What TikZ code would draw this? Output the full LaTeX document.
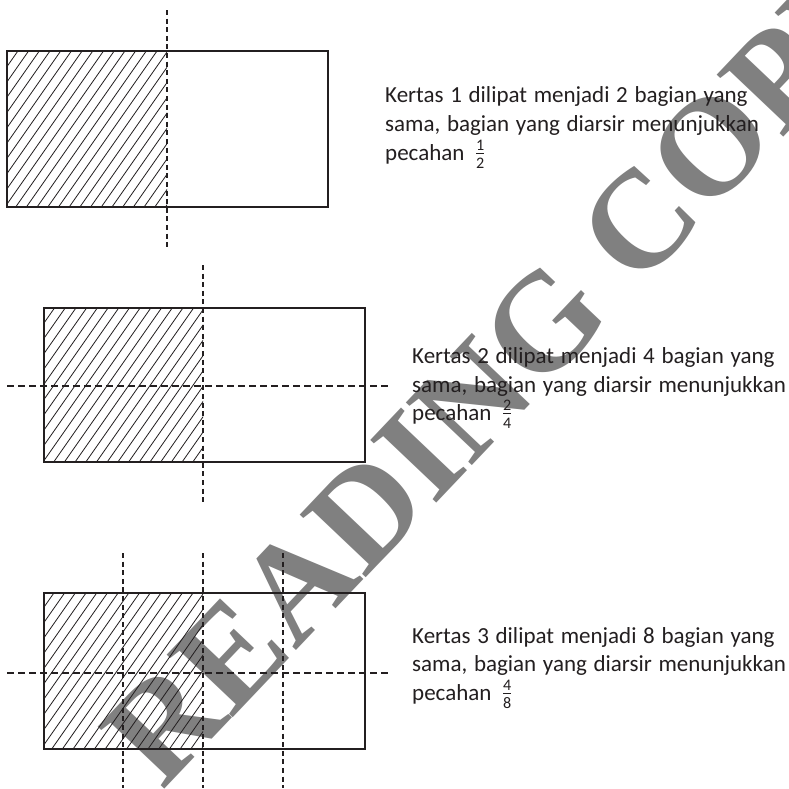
\documentclass[tikz,border=0pt]{standalone}
\usepackage{fontspec}
\usepackage{amsmath}
\setmainfont{Carlito}
\newfontfamily\wmfont{Liberation Serif}
\definecolor{wmgray}{HTML}{808080}
\definecolor{ink}{HTML}{231F20}
\newcommand{\pfrac}[2]{$\genfrac{}{}{0.9pt}{}{\text{#1}}{\text{#2}}$}
\newcommand{\widespaces}{\spaceskip=0.29em plus 0.1em\relax}
\begin{document}
\begin{tikzpicture}[x=1pt,y=-1pt,
  frame/.style={draw=ink, line width=1.8pt},
  hatchline/.style={draw=ink, line width=0.8pt},
  fold/.style={draw=ink, line width=1.8pt, dash pattern=on 5pt off 3.6pt},
  hfold/.style={draw=ink, line width=1.8pt, dash pattern=on 6.5pt off 4.5pt},
  desc/.style={anchor=base west, inner sep=0pt, text=ink,
    font=\fontsize{23}{27}\selectfont, execute at begin node=\widespaces},
]
\useasboundingbox (0,0) rectangle (789,788);
\fill[white] (0,0) rectangle (789,788);

% watermark
\begin{scope}
\clip (0,0) rectangle (789,788);
\node[text=wmgray, font=\wmfont\bfseries\fontsize{139}{139}\selectfont, rotate=46.5, anchor=base west, inner sep=0pt] (wm) at (162,792) {READING COPY};
\end{scope}

% ---------- diagram 1 ----------
\begin{scope}
  \clip (7,51) rectangle (167,207);
  \foreach \k in {0,...,27} {\draw[hatchline] ({-102+\k*10.7},207) -- ++(109.2,-156);}
\end{scope}
\draw[frame] (7,51) rectangle (328,207);
\coordinate (v1t) at (167,10); \coordinate (v1b) at (167,248);
\draw[fold] (v1t) -- (v1b);

% ---------- diagram 2 ----------
\begin{scope}
  \clip (44,308) rectangle (203,462);
  \foreach \k in {0,...,27} {\draw[hatchline] ({-64+\k*10.7},462) -- ++(107.8,-154);}
\end{scope}
\draw[frame] (44,308) rectangle (365,462);
\coordinate (v2t) at (203,265); \coordinate (v2b) at (203,503);
\coordinate (h2l) at (7,386); \coordinate (h2r) at (392,386);
\draw[fold] (v2t) -- (v2b);
\draw[hfold] (h2l) -- (h2r);

% ---------- diagram 3 ----------
\begin{scope}
  \clip (44,593) rectangle (203,749);
  \foreach \k in {0,...,27} {\draw[hatchline] ({-66+\k*10.7},749) -- ++(109.2,-156);}
\end{scope}
\draw[frame] (44,593) rectangle (365,749);
\coordinate (v3at) at (123,553); \coordinate (v3ab) at (123,788);
\coordinate (v3bt) at (203,553); \coordinate (v3bb) at (203,788);
\coordinate (v3ct) at (283,553); \coordinate (v3cb) at (283,788);
\coordinate (h3l) at (7,673); \coordinate (h3r) at (392,673);
\draw[fold] (v3at) -- (v3ab);
\draw[fold] (v3bt) -- (v3bb);
\draw[fold] (v3ct) -- (v3cb);
\draw[hfold] (h3l) -- (h3r);

% ---------- texts ----------
\node[desc] (t1a) at (385,102) {Kertas 1 dilipat menjadi 2 bagian yang};
\node[desc] (t1b) at (385,131) {sama, bagian yang diarsir menunjukkan};
\node[desc] (t1c) at (385,160) {pecahan\hspace{0.45em}\pfrac{1}{2}};

\node[desc] (t2a) at (412,363) {Kertas 2 dilipat menjadi 4 bagian yang};
\node[desc] (t2b) at (412,392) {sama, bagian yang diarsir menunjukkan};
\node[desc] (t2c) at (412,420) {pecahan\hspace{0.45em}\pfrac{2}{4}};

\node[desc] (t3a) at (412,643) {Kertas 3 dilipat menjadi 8 bagian yang};
\node[desc] (t3b) at (412,671) {sama, bagian yang diarsir menunjukkan};
\node[desc] (t3c) at (412,700) {pecahan\hspace{0.45em}\pfrac{4}{8}};
\end{tikzpicture}
\end{document}
